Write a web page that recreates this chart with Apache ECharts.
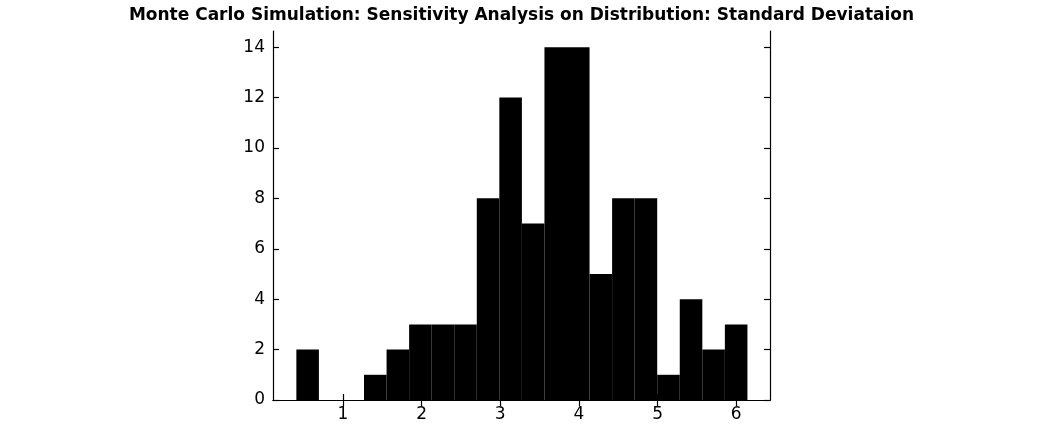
<!DOCTYPE html>
<html><head><meta charset="utf-8">
<script src="https://cdn.jsdelivr.net/npm/echarts@6/dist/echarts.min.js"></script>
<style>body{margin:0}#c{width:1043px;height:430px}</style></head>
<body><div id="c"></div>
<script>
const binStart = 0.407;
const binWidth = 0.2868;
const counts = [2,0,0,1,2,3,3,3,8,12,7,14,14,5,8,8,1,4,2,3];
const xTicks = [1,2,3,4,5,6];
const yTicks = [0,2,4,6,8,10,12,14];
const title = 'Monte Carlo Simulation: Sensitivity Analysis on Distribution: Standard Deviataion';

const data = counts.map((c,i)=>[binStart+i*binWidth, binStart+(i+1)*binWidth, c]);
const font = 'DejaVu Sans';
const axLine = {show:true, lineStyle:{color:'#000', width:1.2}};
const tick = {show:true, inside:true, length:6, lineStyle:{color:'#000', width:1.2}};
const chart = echarts.init(document.getElementById('c'));
chart.setOption({
  animation:false,
  title:{text:title, left:'center', top:2, textStyle:{fontFamily:font, fontWeight:'bold', fontSize:17, color:'#000'}},
  grid:{left:273, right:273, top:31, bottom:30},
  xAxis:[
    {type:'value', min:0.11, max:6.43, position:'bottom', axisLine:axLine, splitLine:{show:false},
     axisTick:Object.assign({customValues:xTicks}, tick),
     axisLabel:{customValues:xTicks, fontFamily:font, fontSize:17, color:'#000', margin:6}},
    {type:'value', min:0.11, max:6.43, position:'top', axisLine:axLine, splitLine:{show:false},
     axisTick:Object.assign({customValues:xTicks}, tick), axisLabel:{show:false}}
  ],
  yAxis:[
    {type:'value', min:0, max:14.64, position:'left', axisLine:axLine, splitLine:{show:false},
     axisTick:Object.assign({customValues:yTicks}, tick),
     axisLabel:{customValues:yTicks, fontFamily:font, fontSize:17, color:'#000', margin:8}},
    {type:'value', min:0, max:14.64, position:'right', axisLine:axLine, splitLine:{show:false},
     axisTick:Object.assign({customValues:yTicks}, tick), axisLabel:{show:false}}
  ],
  series:[{
    type:'custom', xAxisIndex:0, yAxisIndex:0, data:data,
    encode:{x:[0,1], y:2},
    renderItem:function(params, api){
      const p0 = api.coord([api.value(0), 0]);
      const p1 = api.coord([api.value(1), api.value(2)]);
      return {type:'rect', shape:{x:p0[0], y:p1[1], width:p1[0]-p0[0], height:p0[1]-p1[1]}, style:{fill:'#000'}};
    }
  }]
});
</script></body></html>
